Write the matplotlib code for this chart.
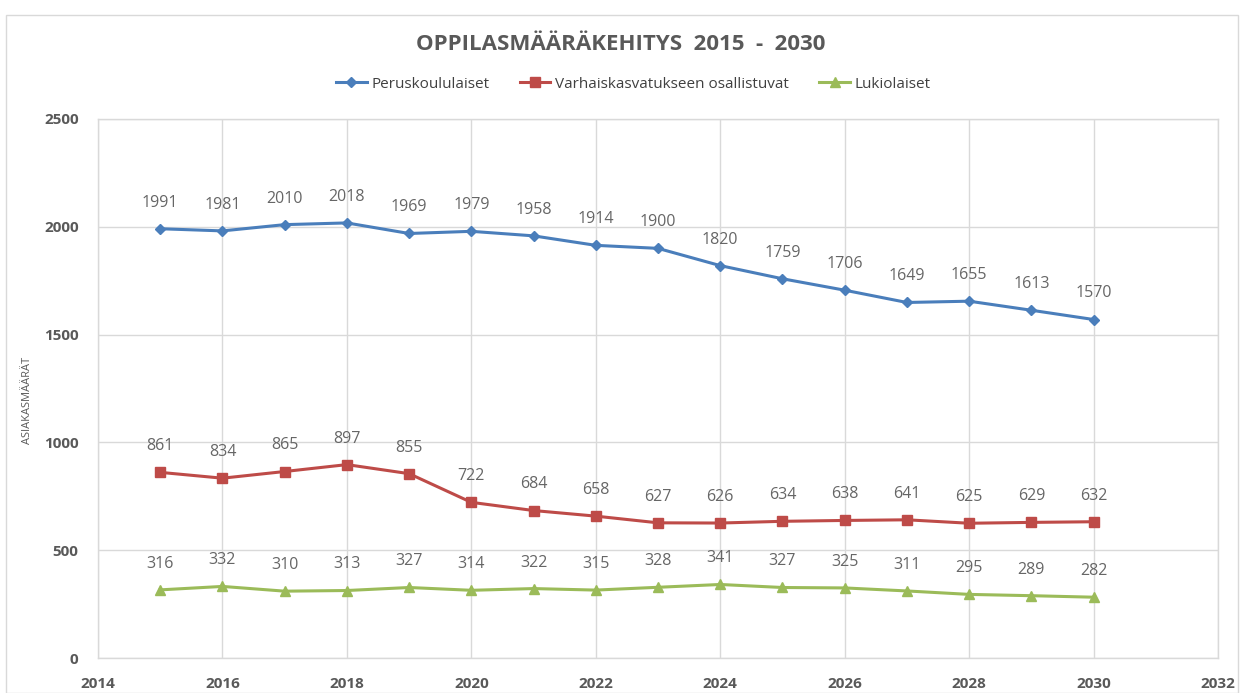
import matplotlib
matplotlib.use("Agg")
import matplotlib.pyplot as plt
from matplotlib.patches import Rectangle

years = list(range(2015, 2031))
peruskoulu = [1991, 1981, 2010, 2018, 1969, 1979, 1958, 1914, 1900, 1820, 1759, 1706, 1649, 1655, 1613, 1570]
varhaiskasvatus = [861, 834, 865, 897, 855, 722, 684, 658, 627, 626, 634, 638, 641, 625, 629, 632]
lukio = [316, 332, 310, 313, 327, 314, 322, 315, 328, 341, 327, 325, 311, 295, 289, 282]

series_names = ["Peruskoululaiset", "Varhaiskasvatukseen osallistuvat", "Lukiolaiset"]
x_ticks = list(range(2014, 2033, 2))
y_ticks = list(range(0, 2501, 500))

plt.rcParams['font.family'] = ['Open Sans', 'DejaVu Sans']
text_gray = '#595959'
grid_gray = '#d9d9d9'

fig = plt.figure(figsize=(12.42, 6.93), dpi=100)
fig.patches.append(Rectangle((6/1242, 0), 1232/1242, 1 - 15/693, transform=fig.transFigure,
                             fill=False, edgecolor='#d9d9d9', linewidth=1.0))

ax = fig.add_axes([98/1242, 1 - 658/693, 1120/1242, 539/693])

styles = [
    dict(color='#4a7ebb', marker='D', markersize=5.5),
    dict(color='#be4b48', marker='s', markersize=7.5),
    dict(color='#9bbb59', marker='^', markersize=7),
]
for name, vals, st in zip(series_names, [peruskoulu, varhaiskasvatus, lukio], styles):
    ax.plot(years, vals, label=name, linewidth=2.2, color=st['color'], marker=st['marker'],
            markersize=st['markersize'], markeredgecolor=st['color'], markerfacecolor=st['color'])
    for x, v in zip(years, vals):
        ax.annotate(str(v), (x, v), xytext=(0, 13), textcoords='offset points',
                    ha='center', va='bottom', fontsize=11.5, color='#666666')

ax.set_xlim(2014, 2032)
ax.set_ylim(0, 2500)
ax.set_xticks(x_ticks)
ax.set_yticks(y_ticks)
ax.grid(True, color=grid_gray, linewidth=1)
ax.set_axisbelow(True)
for sp in ax.spines.values():
    sp.set_color(grid_gray)
    sp.set_linewidth(1)
ax.tick_params(length=0, labelsize=11, labelcolor=text_gray)
ax.tick_params(axis='x', pad=14)
ax.tick_params(axis='y', pad=14)
for lbl in ax.get_xticklabels() + ax.get_yticklabels():
    lbl.set_fontweight('bold')

ax.set_ylabel("ASIAKASMÄÄRÄT", fontsize=8, color=text_gray)
ax.yaxis.set_label_coords(-(98 - 33) / 1120, (658 - 400) / 539)

fig.text(0.5, 1 - 45/693, "OPPILASMÄÄRÄKEHITYS  2015  -  2030", ha='center', va='center',
         fontsize=16, fontweight='bold', color=text_gray)
leg = fig.legend(loc='center', bbox_to_anchor=(0.51, 1 - 84/693), ncol=3, frameon=False,
                 fontsize=11, handlelength=2.0, columnspacing=2.0, handletextpad=0.3)
for t in leg.get_texts():
    t.set_color('#404040')

fig.savefig("out.png", dpi=100)
